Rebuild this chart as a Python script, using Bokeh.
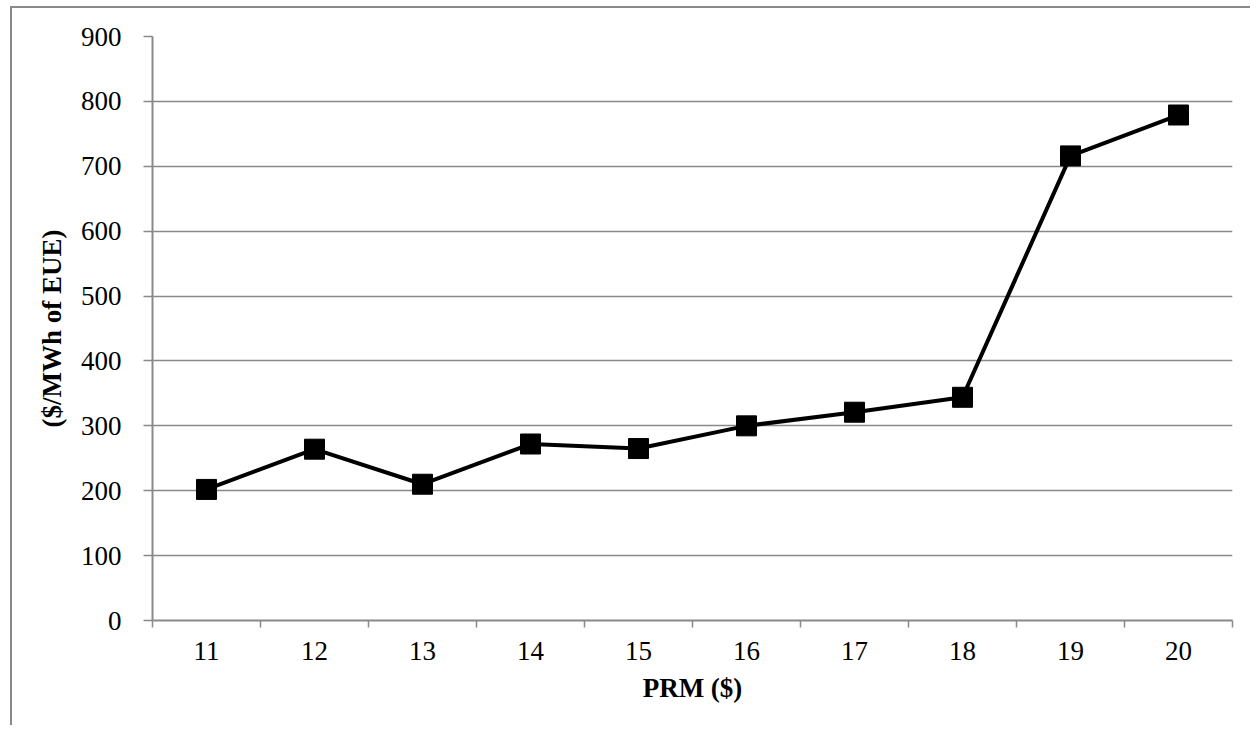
from bokeh.plotting import figure
from bokeh.models import FixedTicker, Range1d
from bokeh.embed import file_html
from bokeh.resources import INLINE

# ---- data ----
prm = [11, 12, 13, 14, 15, 16, 17, 18, 19, 20]
cost = [202, 264, 210, 272, 265, 300, 321, 344, 716, 779]
y_ticks = [0, 100, 200, 300, 400, 500, 600, 700, 800, 900]
x_title = "PRM ($)"
y_title = "($/MWh of EUE)"

GRAY = "#898989"
FONT = "Liberation Serif"

p = figure(width=1240, height=719, output_backend="svg", toolbar_location=None,
           x_range=Range1d(prm[0] - 0.5, prm[-1] + 0.5),
           y_range=Range1d(y_ticks[0], y_ticks[-1]),
           min_border_left=140, min_border_right=20,
           min_border_top=28, min_border_bottom=107)
p.styles = {"border-left": "2px solid " + GRAY, "border-top": "2px solid " + GRAY,
            "margin-left": "10px", "margin-top": "6px"}
p.outline_line_color = None
p.background_fill_color = "white"
p.border_fill_color = "white"

p.line(prm, cost, line_color="black", line_width=4)
p.scatter(prm, cost, marker="square", size=20, color="black")

# x axis: labels at category centres, tick marks at boundaries
xa = p.xaxis[0]
xa.ticker = FixedTicker(ticks=prm, minor_ticks=[v - 0.5 for v in prm] + [prm[-1] + 0.5])
xa.major_tick_out = 0
xa.major_tick_in = 0
xa.minor_tick_out = 7
xa.minor_tick_in = 0
xa.minor_tick_line_color = GRAY
xa.minor_tick_line_width = 1.5
xa.axis_line_color = GRAY
xa.axis_line_width = 2
xa.major_label_standoff = 14
xa.axis_label = x_title
xa.axis_label_standoff = 10

ya = p.yaxis[0]
ya.ticker = FixedTicker(ticks=y_ticks)
ya.major_tick_out = 9
ya.major_tick_in = 0
ya.major_tick_line_color = GRAY
ya.major_tick_line_width = 1.5
ya.minor_tick_out = 0
ya.minor_tick_in = 0
ya.axis_line_color = GRAY
ya.axis_line_width = 2
ya.major_label_standoff = 22
ya.axis_label = y_title
ya.axis_label_standoff = 11

for ax in (xa, ya):
    ax.major_label_text_font = FONT
    ax.major_label_text_font_size = "27px"
    ax.major_label_text_color = "black"
    ax.axis_label_text_font = FONT
    ax.axis_label_text_font_size = "27px"
    ax.axis_label_text_font_style = "bold"
    ax.axis_label_text_color = "black"

p.xgrid.visible = False
p.ygrid.ticker = FixedTicker(ticks=y_ticks)
p.ygrid.grid_line_color = GRAY
p.ygrid.grid_line_width = 1.5

open("out.html", "w").write(file_html(p, INLINE))
